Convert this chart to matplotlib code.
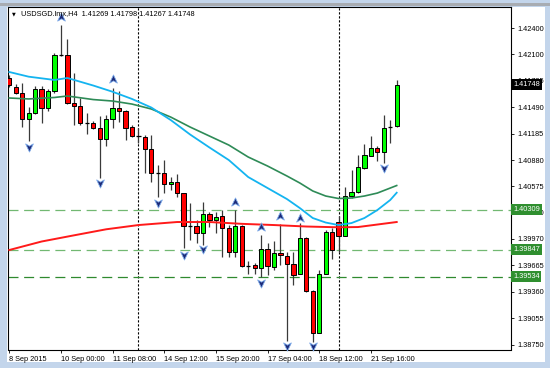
import matplotlib
matplotlib.use("Agg")
import matplotlib.pyplot as plt
from matplotlib.patches import Rectangle
from matplotlib.path import Path

plt.rcParams['font.family'] = ['Liberation Sans', 'DejaVu Sans']

# H4 bars, index 0 = 10 Sep 00:00
bars = list(range(-8, 53))
opens = [1.41827, 1.41727, 1.41657, 1.41354, 1.41423, 1.41700, 1.41481, 1.41677,
         1.42092, 1.42092, 1.41538, 1.41504, 1.41308, 1.41308, 1.41250, 1.41123,
         1.41354, 1.41481, 1.41446, 1.41261, 1.41152, 1.41146, 1.41007, 1.40734,
         1.40730, 1.40603, 1.40626, 1.40499, 1.40124, 1.40119, 1.40038, 1.40257,
         1.40188, 1.40234, 1.40096, 1.39819, 1.40119, 1.39663, 1.39669, 1.39634,
         1.39853, 1.39649, 1.39810, 1.39772, 1.39680, 1.39565, 1.39981, 1.39369,
         1.38884, 1.39565, 1.40049, 1.40168, 1.40007, 1.40468, 1.40511, 1.40791,
         1.40930, 1.41019, 1.40973, 1.41265, 1.41269]
highs = [1.41862, 1.41758, 1.41769, 1.41492, 1.41735, 1.41735, 1.41700, 1.42115,
         1.42439, 1.42277, 1.41885, 1.41596, 1.41423, 1.41331, 1.41388, 1.41400,
         1.41711, 1.41677, 1.41458, 1.41285, 1.41250, 1.41169, 1.41169, 1.40823,
         1.40880, 1.40684, 1.40719, 1.40499, 1.40384, 1.40188, 1.40396, 1.40280,
         1.40280, 1.40303, 1.40130, 1.40303, 1.40130, 1.39715, 1.39692, 1.40015,
         1.39922, 1.39950, 1.40142, 1.39822, 1.39819, 1.40153, 1.39992, 1.39380,
         1.39611, 1.40073, 1.40096, 1.40238, 1.40572, 1.40765, 1.40938, 1.41065,
         1.41161, 1.41042, 1.41400, 1.41342, 1.41798]
lows = [1.41723, 1.41642, 1.41261, 1.41100, 1.41411, 1.41308, 1.41446, 1.41654,
        1.42081, 1.41527, 1.41285, 1.41285, 1.41181, 1.41244, 1.40673, 1.41042,
        1.41250, 1.41319, 1.41111, 1.41146, 1.41077, 1.40730, 1.40626, 1.40453,
        1.40499, 1.40534, 1.40453, 1.39865, 1.39957, 1.39922, 1.39899, 1.40107,
        1.40038, 1.39761, 1.39761, 1.39761, 1.39646, 1.39565, 1.39565, 1.39530,
        1.39553, 1.39611, 1.39669, 1.38792, 1.39438, 1.39565, 1.39357, 1.38780,
        1.38884, 1.39565, 1.39738, 1.39822, 1.40007, 1.40442, 1.40499, 1.40776,
        1.40926, 1.40872, 1.40849, 1.41080, 1.41267]
closes = [1.41746, 1.41650, 1.41350, 1.41423, 1.41700, 1.41481, 1.41677, 1.42092,
          1.42087, 1.41538, 1.41504, 1.41308, 1.41302, 1.41250, 1.41123, 1.41354,
          1.41481, 1.41446, 1.41250, 1.41158, 1.41146, 1.41007, 1.40730, 1.40727,
          1.40603, 1.40626, 1.40499, 1.40119, 1.40119, 1.40038, 1.40257, 1.40188,
          1.40223, 1.40096, 1.39819, 1.40119, 1.39657, 1.39657, 1.39634, 1.39853,
          1.39657, 1.39811, 1.39780, 1.39680, 1.39553, 1.39981, 1.39369, 1.38884,
          1.39565, 1.40049, 1.39842, 1.40007, 1.40468, 1.40511, 1.40800, 1.40938,
          1.41019, 1.40973, 1.41250, 1.41269, 1.41748]

ma_blue_x = [-8, -5, -1, 1, 5, 8, 11, 14, 17, 20, 23, 26, 29, 32, 35, 37, 39, 41, 43, 45, 47, 49, 51, 52]
ma_blue = [1.41896, 1.41842, 1.41804, 1.41827, 1.41740, 1.41668, 1.41585, 1.41486,
           1.41342, 1.41175, 1.41025, 1.40880, 1.40684, 1.40557, 1.40430, 1.40326,
           1.40211, 1.40159, 1.40130, 1.40153, 1.40211, 1.40303, 1.40419, 1.40503]
ma_green_x = ma_blue_x
ma_green = [1.41596, 1.41585, 1.41602, 1.41619, 1.41578, 1.41561, 1.41526, 1.41469,
            1.41376, 1.41261, 1.41157, 1.41053, 1.40915, 1.40811, 1.40696, 1.40615,
            1.40523, 1.40465, 1.40436, 1.40442, 1.40465, 1.40499, 1.40557, 1.40586]
ma_red_x = [-8, -3, 2, 7, 12, 18, 23, 28, 33, 38, 43, 46, 49, 52]
ma_red = [1.39842, 1.39940, 1.40011, 1.40081, 1.40130, 1.40165, 1.40165, 1.40144,
          1.40130, 1.40113, 1.40104, 1.40107, 1.40136, 1.40165]

up_arrow_x = [0, 8, 27, 31, 34, 37]
up_arrow_y = [1.42531, 1.41815, 1.40396, 1.40107, 1.40234, 1.40211]
dn_arrow_x = [-5, 6, 15, 19, 22, 31, 35, 39, 50]
dn_arrow_y = [1.41030, 1.40615, 1.40388, 1.39784, 1.39853, 1.39461, 1.38734, 1.38734, 1.40788]

separators = [12, 43]
levels = [1.40309, 1.39847, 1.39534]
level_colors = ['#72b872', '#72b872', '#2f8a2f']

price_ticks = [1.42400, 1.42100, 1.41795, 1.41490, 1.41185, 1.40880, 1.40575,
               1.40270, 1.39970, 1.39665, 1.39360, 1.39055, 1.38750]
time_ticks = [-8, 0, 8, 16, 24, 32, 40, 48]
time_labels = ['8 Sep 2015', '10 Sep 00:00', '11 Sep 08:00', '14 Sep 12:00',
               '15 Sep 20:00', '17 Sep 04:00', '18 Sep 12:00', '21 Sep 16:00']

W, H = 550, 368
fig = plt.figure(figsize=(W / 100, H / 100), dpi=100, facecolor='#c3d5eb')
fig.patches.append(Rectangle((7 / W, 1 - 362 / H), 538 / W, 355 / H, zorder=-10,
                             transform=fig.transFigure, facecolor='white', edgecolor='none'))
fig.patches.append(Rectangle((0, 1 - 6 / H), 1, 3 / H, transform=fig.transFigure, zorder=-10,
                             facecolor='#a8acb2', edgecolor='none'))
ax = fig.add_axes([8 / W, 1 - 349.5 / H, 503.5 / W, 342.5 / H])
ax.set_facecolor('white')
ax.set_xlim(-8.2, 69.78)
ax.set_ylim(1.38694, 1.42646)

# moving averages
ax.plot(ma_red_x, ma_red, color='#ff1a1a', lw=1.4, zorder=4)
ax.plot(ma_green_x, ma_green, color='#2e8b57', lw=1.2, zorder=4)
ax.plot(ma_blue_x, ma_blue, color='#14b4f0', lw=1.3, zorder=4)

# candles
for i, o, h, l, c in zip(bars, opens, highs, lows, closes):
    ax.vlines(i, l, h, color='#3a3a3a', lw=0.9, zorder=2)
    if abs(c - o) < 0.00008:
        ax.hlines(o, i - 0.33, i + 0.33, color='black', lw=0.9, zorder=3)
    else:
        col = '#00ff00' if c > o else '#ff0000'
        ax.bar(i, abs(c - o), bottom=min(o, c), width=0.66, color=col,
               edgecolor='black', linewidth=0.7, zorder=3)

for x in separators:
    ax.axvline(x, color='black', lw=0.8, ls=(0, (2, 1.6)), zorder=1)
for lv, lc in zip(levels, level_colors):
    ax.axhline(lv, color=lc, lw=0.9, ls=(0, (8, 4.5)), zorder=1)

up_m = Path([(0, 1), (0.85, -0.8), (0, -0.3), (-0.85, -0.8), (0, 1)],
            [Path.MOVETO, Path.LINETO, Path.LINETO, Path.LINETO, Path.CLOSEPOLY])
dn_m = Path([(0, -1), (0.85, 0.8), (0, 0.3), (-0.85, 0.8), (0, -1)],
            [Path.MOVETO, Path.LINETO, Path.LINETO, Path.LINETO, Path.CLOSEPOLY])
ax.plot(up_arrow_x, up_arrow_y, ls='none', marker=up_m, ms=6.5, mfc='#1d2a78',
        mec='#7aa8e8', mew=0.6, zorder=5, clip_on=False)
ax.plot(dn_arrow_x, dn_arrow_y, ls='none', marker=dn_m, ms=6.5, mfc='#1d2a78',
        mec='#7aa8e8', mew=0.6, zorder=5, clip_on=False)

for s in ax.spines.values():
    s.set_color('black')
    s.set_linewidth(0.8)

ax.yaxis.tick_right()
ax.set_yticks(price_ticks)
ax.set_yticklabels([f'{p:.5f}' for p in price_ticks], fontsize=5.3)
ax.tick_params(axis='y', length=2.5, width=0.6, pad=1.5)
ax.set_xticks(time_ticks)
ax.set_xticklabels(time_labels, fontsize=5.3, ha='left')
ax.tick_params(axis='x', length=2.5, width=0.6, pad=2)

ytr = ax.get_yaxis_transform()
for lv in levels:
    ax.text(1.003, lv, f'{lv:.5f}', transform=ytr, fontsize=5.3, color='white',
            va='center', ha='left', zorder=10, clip_on=False,
            bbox=dict(boxstyle='square,pad=0.25', fc='#2f8f2f', ec='none'))
ax.text(1.003, closes[-1], f'{closes[-1]:.5f}', transform=ytr, fontsize=5.3,
        color='white', va='center', ha='left', zorder=10, clip_on=False,
        bbox=dict(boxstyle='square,pad=0.25', fc='black', ec='none'))

fig.text(12 / W, 1 - 14 / H, '\u25bc', fontsize=3.5, va='center', ha='left',
         family='DejaVu Sans')
fig.text(21 / W, 1 - 14 / H,
         'USDSGD.lmx,H4  %.5f %.5f %.5f %.5f' % (opens[-1], highs[-1], lows[-1], closes[-1]),
         fontsize=5.3, va='center', ha='left')

fig.savefig('out.png', dpi=100, facecolor=fig.get_facecolor())
